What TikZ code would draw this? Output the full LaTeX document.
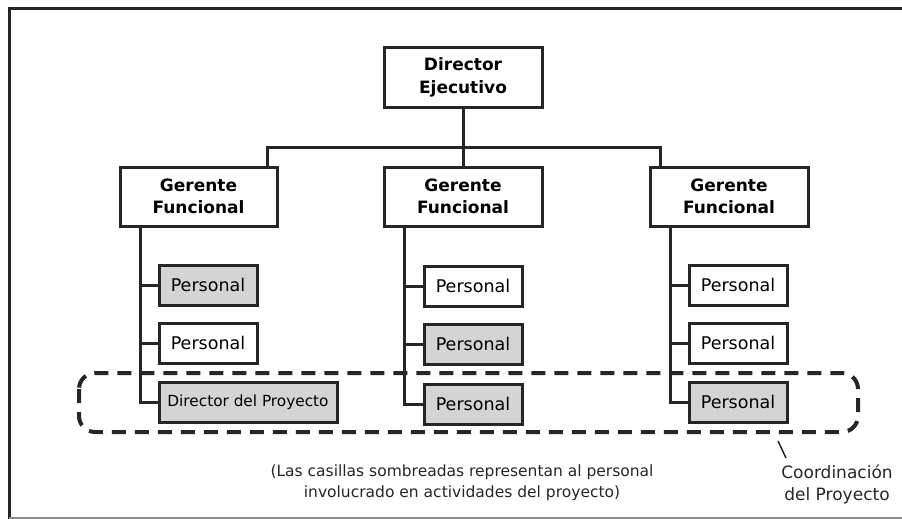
\documentclass[tikz,border=0pt]{standalone}
\usepackage{fontspec}
\setmainfont{DejaVu Sans}
\begin{document}
\begin{tikzpicture}[x=1pt,y=-1pt,
  box/.style={draw=black!85,line width=3pt,fill=white,inner sep=0pt,align=center},
  head/.style={box,font=\fontsize{17}{22.5}\selectfont\bfseries},
  staff/.style={box,font=\fontsize{17.5}{21}\selectfont,minimum width=98pt,minimum height=40pt},
  shaded/.style={fill=black!17},
  link/.style={draw=black!85,line width=3pt},
  note/.style={align=center,font=\fontsize{15.5}{21}\selectfont,text=black!85}]
\useasboundingbox (0,0) rectangle (902,519);
% frame
\draw[black!85,line width=3pt] (902,9) -- (9,9) -- (9,519);
\draw[black!45,line width=1.2pt] (9,518) -- (902,518);
% director
\node[head,minimum width=158pt,minimum height=59pt] (dir) at (463,77.5) {Director\\Ejecutivo};
% gerentes
\node[head,minimum width=157pt,minimum height=59pt] (g1) at (198.5,196.5) {Gerente\\Funcional};
\node[head,minimum width=158pt,minimum height=59pt] (g2) at (463,196.5) {Gerente\\Funcional};
\node[head,minimum width=158pt,minimum height=59pt] (g3) at (729,196.5) {Gerente\\Funcional};
\coordinate (bar) at (463,147.5);
\coordinate (d1) at (267,147.5);
\coordinate (d3) at (660,147.5);
\draw[link] (dir.south) -- (bar);
\draw[link,line cap=rect] (d1) -- (d3);
\draw[link] (d1) -- (d1 |- g1.north);
\draw[link] (bar) -- (g2.north);
\draw[link] (d3) -- (d3 |- g3.north);
% column 1
\node[staff,shaded] (p11) at (208,285) {Personal};
\node[staff] (p12) at (208,343) {Personal};
\node[staff,shaded,font=\fontsize{15.3}{18}\selectfont,minimum width=178pt] (p13) at (248,402.5) {Director del Proyecto};
% column 2
\node[staff] (p21) at (473,286) {Personal};
\node[staff,shaded] (p22) at (473,344) {Personal};
\node[staff,shaded] (p23) at (473,404) {Personal};
% column 3
\node[staff] (p31) at (738,285) {Personal};
\node[staff] (p32) at (738,343) {Personal};
\node[staff,shaded] (p33) at (738,402) {Personal};
% spines
\draw[link,line join=miter] (140,226) |- (p13.west);
\draw[link] (140,0 |- p11.west) -- (p11.west);
\draw[link] (140,0 |- p12.west) -- (p12.west);
\draw[link,line join=miter] (404,226) |- (p23.west);
\draw[link] (404,0 |- p21.west) -- (p21.west);
\draw[link] (404,0 |- p22.west) -- (p22.west);
\draw[link,line join=miter] (670,226) |- (p33.west);
\draw[link] (670,0 |- p31.west) -- (p31.west);
\draw[link] (670,0 |- p32.west) -- (p32.west);
% coordination
\draw[black!85,line width=4pt,dash pattern=on 14pt off 9pt,rounded corners=16pt] (79,373) rectangle (858,432);
\coordinate (tick1) at (778,441);
\coordinate (tick2) at (786,458);
\draw[black!85,line width=1.5pt] (tick1) -- (tick2);
\node[note,font=\fontsize{17}{22}\selectfont] (coord) at (837,484) {Coordinación\\del Proyecto};
\node[note] (cap) at (462,483) {(Las casillas sombreadas representan al personal\\involucrado en actividades del proyecto)};
\end{tikzpicture}
\end{document}
